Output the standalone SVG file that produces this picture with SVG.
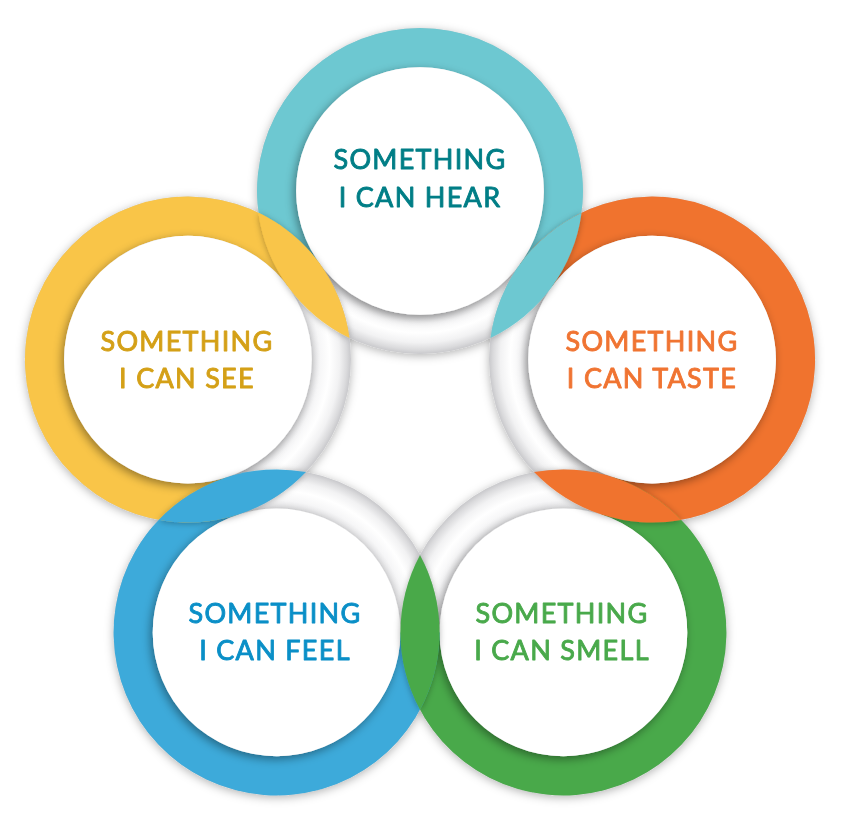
<svg xmlns="http://www.w3.org/2000/svg" xmlns:xlink="http://www.w3.org/1999/xlink" width="842" height="822" viewBox="0 0 842 822">
  <style>
    .lbl { font-family: Lato, "Noto Sans", "Liberation Sans", sans-serif; font-size: 27px; font-weight: 400; letter-spacing: 1.3px; text-anchor: middle; stroke-width: 0.9px; stroke-linejoin: round; }
    .disc { fill: #ffffff; filter: url(#discShadow); }
    .base { fill: url(#ringWhite); fill-rule: evenodd; }
  </style>
  <defs>
    <radialGradient id="ringWhite" cx="0.5" cy="0.5" r="0.5">
      <stop offset="0.76" stop-color="#e2e2e4"/>
      <stop offset="0.81" stop-color="#f6f6f7"/>
      <stop offset="0.87" stop-color="#ffffff"/>
      <stop offset="0.93" stop-color="#f2f2f3"/>
      <stop offset="0.975" stop-color="#dadadc"/>
      <stop offset="1" stop-color="#c8c8cb"/>
    </radialGradient>
    <filter id="outerShadow" x="-10%" y="-10%" width="120%" height="120%">
      <feDropShadow dx="0" dy="2" stdDeviation="5" flood-color="#000" flood-opacity="0.3"/>
    </filter>
    <filter id="discShadow" x="-20%" y="-20%" width="140%" height="140%">
      <feDropShadow dx="-2" dy="3" stdDeviation="5" flood-color="#000" flood-opacity="0.4"/>
    </filter>
    <filter id="lensShadow" x="-30%" y="-30%" width="160%" height="160%">
      <feDropShadow dx="0" dy="1" stdDeviation="3" flood-color="#000" flood-opacity="0.3"/>
    </filter>
    <path id="annulus" d="M -163 0 A 163 163 0 1 0 163 0 A 163 163 0 1 0 -163 0 Z M -123.84 0 A 123.84 123.84 0 1 0 123.84 0 A 123.84 123.84 0 1 0 -123.84 0 Z"/>
  </defs>

  <rect width="842" height="822" fill="#ffffff"/>

  <!-- white ring bases -->
  <g id="ring-bases" filter="url(#outerShadow)">
    <use xlink:href="#annulus" class="base" x="420" y="191"/>
    <use xlink:href="#annulus" class="base" x="652.06" y="359.6"/>
    <use xlink:href="#annulus" class="base" x="563.42" y="632.4"/>
    <use xlink:href="#annulus" class="base" x="276.58" y="632.4"/>
    <use xlink:href="#annulus" class="base" x="187.94" y="359.6"/>
  </g>

  <g id="node-hear">
    <path fill="#6dc8d1" d="M 288.13 286.81 A 163 163 0 1 1 551.87 286.81 L 520.19 263.79 A 123.84 123.84 0 1 0 319.81 263.79 Z"/>
    <circle class="disc" cx="420" cy="191" r="123.84"/>
    <text class="lbl" fill="#007e86" stroke="#007e86"><tspan x="420" y="169">SOMETHING</tspan><tspan x="420" y="207">I CAN HEAR</tspan></text>
  </g>

  <g id="node-taste">
    <path fill="#f0732e" d="M 520.19 263.79 A 163 163 0 1 1 601.69 514.62 L 613.79 477.38 A 123.84 123.84 0 1 0 551.87 286.81 Z"/>
    <circle class="disc" cx="652.06" cy="359.6" r="123.84"/>
    <text class="lbl" fill="#f07432" stroke="#f07432"><tspan x="652" y="351">SOMETHING</tspan><tspan x="652" y="388">I CAN TASTE</tspan></text>
  </g>

  <g id="node-smell">
    <path fill="#49a94a" d="M 613.79 477.38 A 163 163 0 1 1 400.42 632.4 L 439.58 632.4 A 123.84 123.84 0 1 0 601.69 514.62 Z"/>
    <circle class="disc" cx="563.42" cy="632.4" r="123.84"/>
    <text class="lbl" fill="#49a94b" stroke="#49a94b"><tspan x="562" y="623">SOMETHING</tspan><tspan x="562" y="660">I CAN SMELL</tspan></text>
  </g>

  <g id="node-feel">
    <path fill="#3daada" d="M 439.58 632.4 A 163 163 0 1 1 226.21 477.38 L 238.31 514.62 A 123.84 123.84 0 1 0 400.42 632.4 Z"/>
    <circle class="disc" cx="276.58" cy="632.4" r="123.84"/>
    <text class="lbl" fill="#0a8fc7" stroke="#0a8fc7"><tspan x="275" y="623">SOMETHING</tspan><tspan x="275" y="660">I CAN FEEL</tspan></text>
  </g>

  <g id="node-see">
    <path fill="#f9c548" d="M 238.31 514.62 A 163 163 0 1 1 319.81 263.79 L 288.13 286.81 A 123.84 123.84 0 1 0 226.21 477.38 Z"/>
    <circle class="disc" cx="187.94" cy="359.6" r="123.84"/>
    <text class="lbl" fill="#d4a017" stroke="#d4a017"><tspan x="187" y="351">SOMETHING</tspan><tspan x="187" y="388">I CAN SEE</tspan></text>
  </g>

  <!-- overlapping lenses, each ring lies over its clockwise neighbour -->
  <g id="overlaps" filter="url(#lensShadow)">
    <path fill="#6dc8d1" d="M 581.56 212.63 A 163 163 0 0 1 490.5 337.97 A 163 163 0 0 1 581.56 212.63 Z"/>
    <path fill="#f0732e" d="M 681.41 519.94 A 163 163 0 0 1 534.07 472.06 A 163 163 0 0 1 681.41 519.94 Z"/>
    <path fill="#49a94a" d="M 420 709.86 A 163 163 0 0 1 420 554.94 A 163 163 0 0 1 420 709.86 Z"/>
    <path fill="#3daada" d="M 158.59 519.94 A 163 163 0 0 1 305.93 472.06 A 163 163 0 0 1 158.59 519.94 Z"/>
    <path fill="#f9c548" d="M 258.44 212.63 A 163 163 0 0 1 349.5 337.97 A 163 163 0 0 1 258.44 212.63 Z"/>
  </g>
</svg>
